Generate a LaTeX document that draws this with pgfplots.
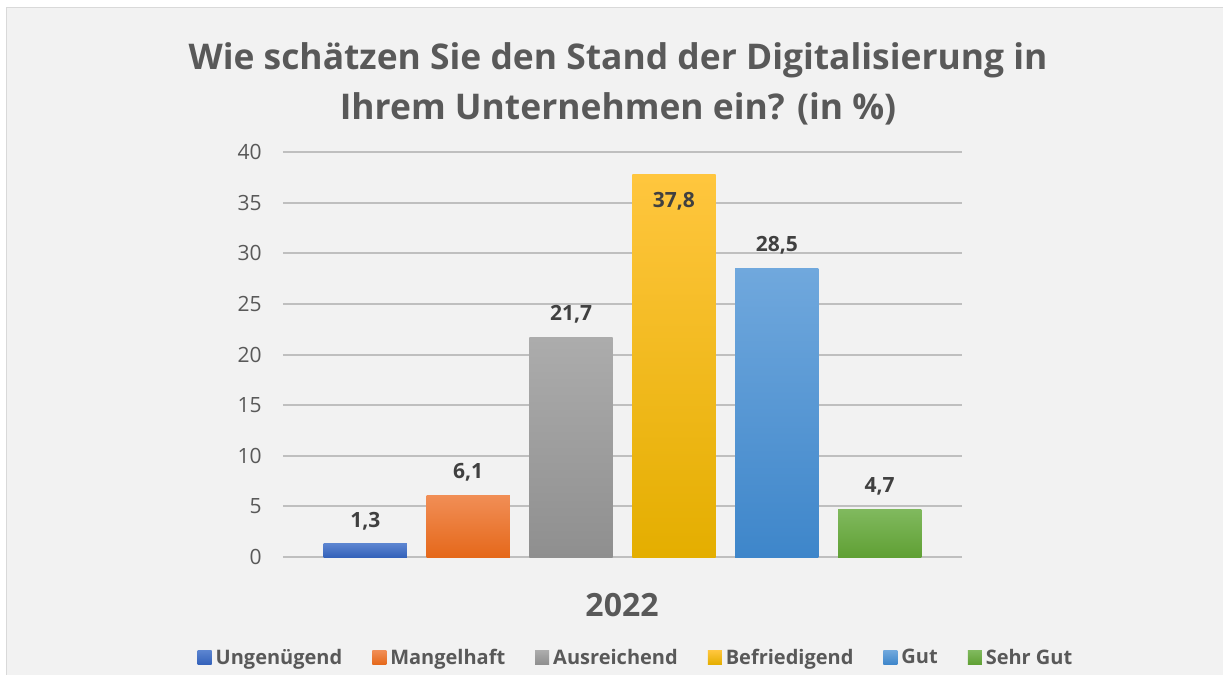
\documentclass[border=0pt]{standalone}
\usepackage{fontspec}
\setmainfont{Open Sans}
\usepackage{pgfplots}
\pgfplotsset{compat=1.18}
\definecolor{txt}{HTML}{595959}
\definecolor{lbl}{HTML}{404040}
\definecolor{grid}{HTML}{D9D9D9}
\definecolor{bg}{HTML}{F2F2F2}
\begin{document}
\begin{tikzpicture}
\path[use as bounding box] (0,0) rectangle (611.5pt,-337.5pt);
\fill[white] (0,0) rectangle (611.5pt,-337.5pt);
\draw[grid, fill=bg, line width=0.8pt] (3.25pt,-3.75pt) rectangle (620pt,-345pt);
\node[font=\fontsize{17.7}{25}\selectfont\bfseries, text=txt, align=center] at (309pt,-42pt)
  {Wie schätzen Sie den Stand der Digitalisierung in\\Ihrem Unternehmen ein? (in \%)};
\begin{axis}[
  at={(141.5pt,-278.5pt)}, anchor=south west,
  width=339.5pt, height=202.5pt, scale only axis,
  ybar, bar width=0.81, bar shift=0pt,
  xmin=-0.8, xmax=5.8, ymin=0, ymax=40,
  xtick=\empty, ytick={0,5,...,40},
  axis line style={draw=none},
  major tick length=0pt,
  ymajorgrids, grid style={grid, line width=1pt},
  clip=false,
  /pgf/number format/assume math mode=true,
  yticklabel style={font=\fontsize{10.5}{12}\selectfont, text=txt, anchor=east, inner sep=0pt, xshift=-10.5pt},
  nodes near coords,
  nodes near coords style={font=\fontsize{10.5}{12}\selectfont\bfseries, text=lbl,
    /pgf/number format/use comma, /pgf/number format/fixed, /pgf/number format/fixed zerofill,
    /pgf/number format/precision=1, /pgf/number format/assume math mode=true},
  every node near coord/.append style={yshift=3.5pt},
  legend style={at={(0.5214,-0.2494)}, anchor=center, legend columns=-1, draw=none, fill=none,
    font=\fontsize{10}{12}\selectfont\bfseries, text=txt,
    /tikz/every even column/.append style={column sep=13pt},
    /tikz/every odd column/.append style={column sep=0pt}},
  legend image code/.code={\path[#1,draw=none] (0pt,-3.2pt) rectangle (7pt,3.8pt);},
]
\addplot[draw=none, top color={rgb,255:red,91;green,132;blue,208}, bottom color={rgb,255:red,52;green,98;blue,186}] coordinates {(0,1.3)};
\addplot[draw=none, top color={rgb,255:red,241;green,142;blue,86}, bottom color={rgb,255:red,229;green,104;blue,26}] coordinates {(1,6.1)};
\addplot[draw=none, top color={rgb,255:red,172;green,172;blue,172}, bottom color={rgb,255:red,143;green,143;blue,143}] coordinates {(2,21.7)};
\addplot[draw=none, top color={rgb,255:red,255;green,198;blue,62}, bottom color={rgb,255:red,228;green,174;blue,0},
  every node near coord/.append style={anchor=north, yshift=-9pt}] coordinates {(3,37.8)};
\addplot[draw=none, top color={rgb,255:red,112;green,168;blue,221}, bottom color={rgb,255:red,62;green,134;blue,202}] coordinates {(4,28.5)};
\addplot[draw=none, top color={rgb,255:red,128;green,185;blue,94}, bottom color={rgb,255:red,96;green,160;blue,52}] coordinates {(5,4.7)};
\legend{Ungenügend,Mangelhaft,Ausreichend,Befriedigend,Gut,Sehr Gut}
\node[font=\fontsize{16}{18}\selectfont\bfseries, text=txt] at (rel axis cs:0.4993,-0.1185) {2022};
\end{axis}
\end{tikzpicture}
\end{document}
